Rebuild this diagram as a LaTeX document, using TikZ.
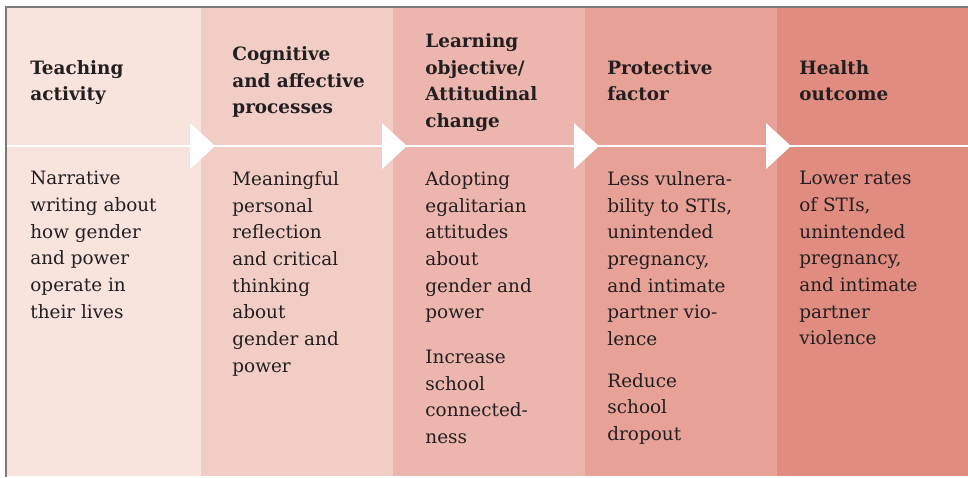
\documentclass[tikz,border=0pt]{standalone}
\usepackage{fontspec}
\setmainfont{DejaVu Serif}
\usetikzlibrary{positioning}

\definecolor{stageA}{HTML}{F8E3DD}
\definecolor{stageB}{HTML}{F2CDC5}
\definecolor{stageC}{HTML}{ECB5AD}
\definecolor{stageD}{HTML}{E7A196}
\definecolor{stageE}{HTML}{E08C81}
\definecolor{frame}{HTML}{7A7A7A}
\definecolor{ink}{HTML}{231F20}

\begin{document}
\begin{tikzpicture}[x=0.5pt,y=-0.5pt]
\tikzstyle{stage}=[rectangle,inner sep=0pt,outer sep=0pt,line width=0.2pt,minimum width=96pt,minimum height=233.5pt,anchor=north west]
\tikzstyle{head}=[anchor=west,align=left,inner sep=0pt,text=ink,font=\bfseries\fontsize{9.2}{13.33}\selectfont]
\tikzstyle{body}=[anchor=north west,align=left,inner sep=0pt,text=ink,font=\fontsize{9.2}{13.33}\selectfont]
\tikzstyle{flow}=[white,line width=1.25pt]

\useasboundingbox (0,0) rectangle (968,477);

    % Columns
    \node [stage,fill=stageA,draw=stageA,minimum width=97pt](col1) at (7,8) {};
    \node [stage,fill=stageB,draw=stageB](col2) at (col1.north east) {};
    \node [stage,fill=stageC,draw=stageC](col3) at (col2.north east) {};
    \node [stage,fill=stageD,draw=stageD](col4) at (col3.north east) {};
    \node [stage,fill=stageE,draw=stageE,minimum width=95.5pt](col5) at (col4.north east) {};

    % Frame
    \draw[frame,line width=1pt] (5.5,477) -- (5.5,7) -- (968,7);

    % Flow line
    \coordinate (fs) at (7,146);
    \coordinate (fe) at (968,146);
    \draw[flow] (fs) -- (fe);
    \foreach \c in {col1,col2,col3,col4}
      \fill[white] (\c.north east |- fs) ++(-11,-23) -- ++(25,23) -- ++(-25,23) -- cycle;

    % Headings
    \node [head](head1) at (30,82) {\strut Teaching\\activity\strut};
    \node [head](head2) at (232,82) {\strut Cognitive\\and affective\\processes\strut};
    \node [head](head3) at (425,82) {\strut Learning\\objective/\\Attitudinal\\change\strut};
    \node [head](head4) at (607,82) {\strut Protective\\factor\strut};
    \node [head](head5) at (799,82) {\strut Health\\outcome\strut};

    % Contents
    \node [body](body1) at (30,171) {Narrative\\writing about\\how gender\\and power\\operate in\\their lives};
    \node [body](body2) at (232,171) {Meaningful\\personal\\reflection\\and critical\\thinking\\about\\gender and\\power};
    \node [body](body3) at (425,171) {Adopting\\egalitarian\\attitudes\\about\\gender and\\power\\[9pt]Increase\\school\\connected-\\ness};
    \node [body](body4) at (607,171) {Less vulnera-\\bility to STIs,\\unintended\\pregnancy,\\and intimate\\partner vio-\\lence\\[7.5pt]Reduce\\school\\dropout};
    \node [body](body5) at (799,171) {Lower rates\\of STIs,\\unintended\\pregnancy,\\and intimate\\partner\\violence};

\end{tikzpicture}
\end{document}
